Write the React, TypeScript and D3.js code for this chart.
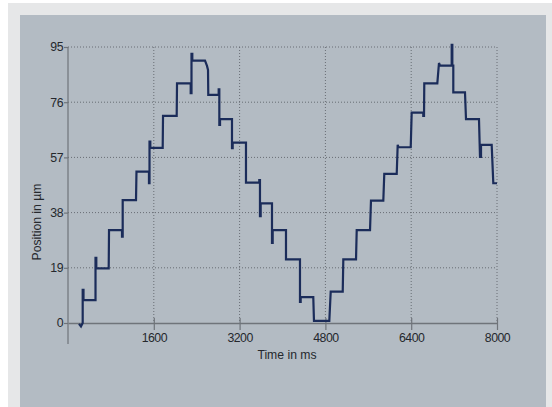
import { useEffect, useRef } from 'react'
import * as d3 from 'd3'

// stepped position trace (time in ms, position in µm)
const timeMs = [
  205, 242, 274, 274, 289, 289, 503, 513, 513, 528, 528, 759,
  765, 1007, 1007, 1020, 1020, 1268,
  1277, 1510, 1510, 1520, 1520, 1535, 1535, 1766,
  1772, 2027,
  2033, 2288, 2288, 2303, 2303, 2318, 2318, 2555, 2592, 2611,
  2616, 2810, 2810, 2822, 2822, 2835, 2835, 3058,
  3058, 3071, 3071, 3319,
  3319, 3567, 3567, 3580, 3580, 3593, 3593, 3804,
  3804, 3817, 3817, 4065,
  4065, 4326,
  4326, 4339, 4339, 4574,
  4587, 4873,
  4899, 5123,
  5134, 5371,
  5384, 5632,
  5650, 5880,
  5898, 6130,
  6148, 6163, 6391,
  6409, 6625, 6625, 6639,
  6644, 6887,
  6918, 6937, 7155, 7155, 7167, 7167, 7185,
  7185, 7403,
  7422, 7664,
  7683, 7702, 7702, 7901,
  7931, 8000,
]

const positionUm = [
  -0.3, -1.2, 0, 11.4, 11.4, 7.9, 7.9, 7.9, 22.4, 22.4, 18.8, 18.8,
  32.0, 32.0, 29.7, 29.7, 42.3, 42.3,
  52.1, 52.1, 48.1, 48.1, 62.4, 62.4, 60.3, 60.3,
  71.3, 71.3,
  82.5, 82.5, 79.1, 79.1, 92.6, 92.6, 90.3, 90.3, 88.5, 87.1,
  78.5, 78.5, 80.4, 80.4, 68.2, 68.2, 70.2, 70.2,
  60.2, 60.2, 62.1, 62.1,
  48.3, 48.3, 49.2, 49.2, 36.8, 36.8, 41.2, 41.2,
  27.6, 27.6, 32.0, 32.0,
  21.9, 21.9,
  7.3, 7.3, 8.9, 8.9,
  0.7, 0.7,
  10.8, 10.8,
  21.9, 21.9,
  32.0, 32.0,
  42.1, 42.1,
  51.3, 51.3,
  61.3, 60.5, 60.5,
  72.4, 72.4, 71.3, 71.3,
  82.5, 82.5,
  89.5, 88.6, 88.6, 95.7, 95.7, 88.6, 88.6,
  79.4, 79.4,
  70.2, 70.2,
  57.2, 57.2, 61.3, 61.3,
  48.1, 48.1,
]

const xTicks = [1600, 3200, 4800, 6400, 8000]
const yTicks = [0, 19, 38, 57, 76, 95]

const W = 552
const H = 407
const FONT = '"Liberation Sans", Arial, sans-serif'

export default function App() {
  const svgRef = useRef<SVGSVGElement>(null)

  useEffect(() => {
    if (!svgRef.current) return
    const svg = d3.select(svgRef.current)
    svg.selectAll('*').remove()

    // backgrounds
    svg.append('rect').attr('width', W).attr('height', H).attr('fill', '#ffffff')
    svg.append('rect').attr('x', 8).attr('y', 3).attr('width', W - 8).attr('height', H - 3).attr('fill', '#e6e7e8')
    svg.append('rect').attr('x', 20).attr('y', 15).attr('width', 526).attr('height', H - 15).attr('fill', '#b3bbc3')

    const x = d3.scaleLinear().domain([0, 8000]).range([68, 497])
    const y = d3.scaleLinear().domain([0, 95]).range([323, 47])

    // dotted grid
    const grid = svg.append('g')
      .attr('stroke', '#686d74')
      .attr('stroke-width', 1)
      .attr('stroke-dasharray', '1,2')
    grid.selectAll('line.h')
      .data(yTicks.filter((d) => d > 0))
      .join('line')
      .attr('class', 'h')
      .attr('x1', x(0)).attr('x2', x(8000))
      .attr('y1', (d) => y(d)).attr('y2', (d) => y(d))
    grid.selectAll('line.v')
      .data(xTicks)
      .join('line')
      .attr('class', 'v')
      .attr('x1', (d) => x(d)).attr('x2', (d) => x(d))
      .attr('y1', y(95)).attr('y2', y(0))

    // x axis
    const xAxis = svg.append('g')
      .attr('transform', `translate(0, ${y(0)})`)
      .call(d3.axisBottom(x).tickValues(xTicks).tickSizeInner(7).tickSizeOuter(0).tickPadding(3.5).tickFormat(d3.format('d')))
    xAxis.select('.domain').attr('stroke', '#6f747a').attr('stroke-width', 1.6)
    xAxis.selectAll('.tick line').attr('stroke', '#6f747a').attr('stroke-width', 1.2).attr('y1', -5)

    // y axis
    const yAxis = svg.append('g')
      .attr('transform', `translate(${x(0)}, 0)`)
      .call(d3.axisLeft(y).tickValues(yTicks).tickSize(4).tickPadding(1).tickFormat(d3.format('d')))
    yAxis.select('.domain').remove()
    yAxis.selectAll('.tick line').attr('stroke', '#6f747a').attr('stroke-width', 1.2)
    svg.append('line')
      .attr('x1', x(0)).attr('x2', x(0))
      .attr('y1', y(95)).attr('y2', y(0) + 21)
      .attr('stroke', '#6f747a')
      .attr('stroke-width', 1.2)

    svg.selectAll('.tick text')
      .attr('fill', '#25282d')
      .style('font-family', FONT)
      .style('font-size', '12.3px')
      .style('letter-spacing', '-0.5px')

    // axis titles
    svg.append('text')
      .attr('x', 287)
      .attr('y', 359)
      .attr('text-anchor', 'middle')
      .attr('fill', '#25282d')
      .style('font-family', FONT)
      .style('font-size', '12.2px')
      .text('Time in ms')

    svg.append('text')
      .attr('transform', `translate(41, 222) rotate(-90)`)
      .attr('text-anchor', 'middle')
      .attr('fill', '#25282d')
      .style('font-family', FONT)
      .style('font-size', '12.2px')
      .text('Position in µm')

    // trace
    const points = timeMs.map((t, i) => [t, positionUm[i]] as [number, number])
    const line = d3.line<[number, number]>()
      .x((d) => x(d[0]))
      .y((d) => y(d[1]))
    svg.append('path')
      .datum(points)
      .attr('d', line)
      .attr('fill', 'none')
      .attr('stroke', '#1b2c5a')
      .attr('stroke-width', 2.2)
      .attr('stroke-linejoin', 'miter')
  }, [])

  return (
    <div style={{ position: 'fixed', left: 0, top: 0 }}>
      <svg ref={svgRef} width={W} height={H} style={{ display: 'block' }} />
    </div>
  )
}
